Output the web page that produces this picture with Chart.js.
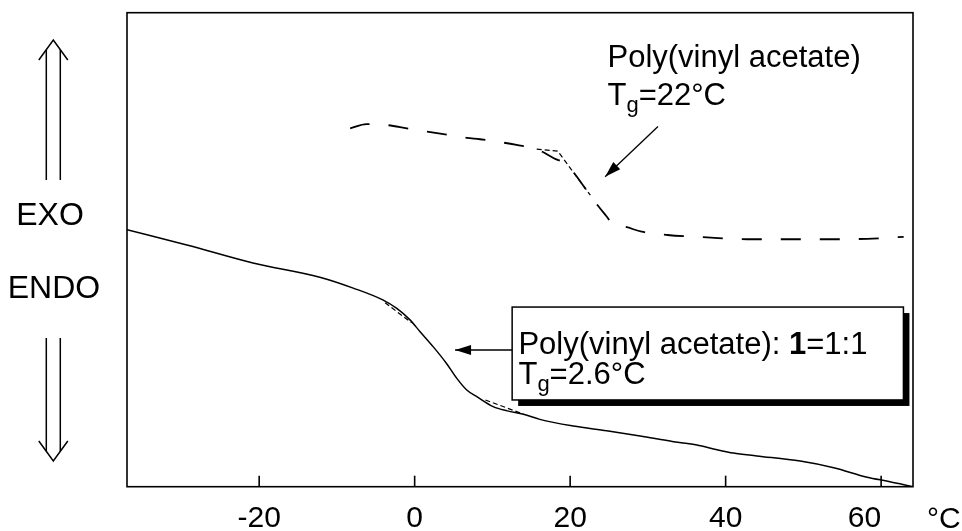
<!DOCTYPE html>
<html>
<head>
<meta charset="utf-8">
<script src="https://cdn.jsdelivr.net/npm/chart.js@4.4.1/dist/chart.umd.min.js"></script>
<style>
    html, body { margin: 0; padding: 0; background: #fff; }
    #wrap { width: 962px; height: 531px; }
</style>
</head>
<body>
<div id="wrap"><canvas id="dscChart" width="962" height="531"></canvas></div>
<script>
// Temperature ticks (°C)
const tickValues = [-20, 0, 20, 40, 60];

// Poly(vinyl acetate) : 1 = 1:1 blend (solid trace), heat flow in arbitrary units
const blendTemp = [-37, -29.3, -20.8, -12.2, -7.9, -4.1, -2.3, -0.6, 0.7, 2.4, 4.1, 5.4, 6.7, 8.0,
    10.1, 11.9, 14.0, 16.1, 20.4, 24.7, 29.0, 33.3, 36.3, 38.9, 41.0, 44.0, 49.6, 53.9, 58.2, 61.0, 64.1];
const blendFlow = [54.2, 51.0, 47.2, 44.2, 41.9, 39.4, 37.6, 35.2, 32.7, 29.5, 26.0, 22.9, 20.4, 19.0,
    16.9, 16.0, 15.3, 14.2, 12.8, 11.8, 10.7, 9.5, 8.8, 7.8, 7.1, 6.5, 5.4, 4.0, 2.0, 1.1, 0];

// Poly(vinyl acetate) alone (dashed trace)
const pvacTemp = [-8.3, -6.2, -3.6, -1.0, 1.6, 3.7, 6.7, 8.4, 11.0, 13.1, 15.7, 17.9, 19.6, 21.3,
    23.0, 24.7, 25.6, 26.8, 29.2, 32.5, 37.6, 42.8, 47.9, 53.5, 58.2, 62.9];
const pvacFlow = [75.6, 76.5, 76.3, 75.6, 74.9, 74.4, 73.6, 73.3, 72.7, 72.1, 71.2, 69.3, 67.9, 64.4,
    60.5, 57.0, 55.2, 54.9, 53.8, 53.1, 52.6, 52.2, 52.2, 52.2, 52.3, 52.7];

// Tangent construction lines (Tg onset / end)
const tangentTemp = [-3.8, -0.4, null, 9.1, 14.0, null, 15.7, 18.4, 22.6];
const tangentFlow = [38.8, 34.6, null, 18.3, 15.3, null, 71.2, 70.8, 61.5];

const FONT = "'Liberation Sans', Arial, Helvetica, sans-serif";

function toPoints(xs, ys) {
    return xs.map((x, i) => ({ x: x, y: ys[i] }));
}

function drawRich(ctx, x, y, parts, baseSize) {
    let cx = x;
    parts.forEach(p => {
        const size = p.size || baseSize;
        ctx.font = (p.bold ? "bold " : "") + size + "px " + FONT;
        ctx.fillText(p.t, cx, y + (p.dy || 0));
        cx += ctx.measureText(p.t).width;
    });
}

function arrowHead(ctx, x1, y1, x2, y2, len, half) {
    const a = Math.atan2(y2 - y1, x2 - x1);
    ctx.beginPath();
    ctx.moveTo(x2, y2);
    ctx.lineTo(x2 - len * Math.cos(a) + half * Math.sin(a), y2 - len * Math.sin(a) - half * Math.cos(a));
    ctx.lineTo(x2 - len * Math.cos(a) - half * Math.sin(a), y2 - len * Math.sin(a) + half * Math.cos(a));
    ctx.closePath();
    ctx.fill();
}

function arrow(ctx, x1, y1, x2, y2) {
    ctx.beginPath();
    ctx.moveTo(x1, y1);
    ctx.lineTo(x2, y2);
    ctx.stroke();
    arrowHead(ctx, x1, y1, x2, y2, 16, 5);
}

function openDoubleArrow(ctx, cx, yStart, yTip, dir) {
    // dir = -1 points up, +1 points down
    const headH = 20, headW = 14.5, gap = 7;
    const yBase = yTip - dir * headH;
    ctx.beginPath();
    ctx.moveTo(cx - headW, yBase);
    ctx.lineTo(cx, yTip);
    ctx.lineTo(cx + headW, yBase);
    ctx.stroke();
    const yJoin = yTip - dir * headH * (gap / headW);
    ctx.beginPath();
    ctx.moveTo(cx - gap, yStart);
    ctx.lineTo(cx - gap, yJoin);
    ctx.moveTo(cx + gap, yStart);
    ctx.lineTo(cx + gap, yJoin);
    ctx.stroke();
}

const decorPlugin = {
    id: "decor",
    afterDatasetsDraw(chart) {
        const ctx = chart.ctx;
        const a = chart.chartArea;
        const xs = chart.scales.x;
        const ys = chart.scales.y;
        const px = v => xs.getPixelForValue(v);
        const py = v => ys.getPixelForValue(v);

        ctx.save();
        ctx.strokeStyle = "#000";
        ctx.fillStyle = "#000";
        ctx.lineWidth = 1.6;

        // frame
        ctx.strokeRect(a.left, a.top, a.right - a.left, a.bottom - a.top);

        // inward ticks
        tickValues.forEach(t => {
            ctx.beginPath();
            ctx.moveTo(px(t), a.bottom);
            ctx.lineTo(px(t), a.bottom - 11);
            ctx.stroke();
        });

        // unit
        ctx.font = "30px " + FONT;
        ctx.textBaseline = "alphabetic";
        ctx.textAlign = "left";
        ctx.fillText("°C", a.right + 14, 528);

        // EXO / ENDO with double arrows
        ctx.textAlign = "center";
        ctx.font = "32px " + FONT;
        ctx.fillText("EXO", 50, 225);
        ctx.fillText("ENDO", 54, 298);
        ctx.lineWidth = 1.5;
        openDoubleArrow(ctx, 53.3, 180, 40, -1);
        openDoubleArrow(ctx, 53.3, 338, 461, 1);

        // top annotation
        ctx.textAlign = "left";
        ctx.font = "31px " + FONT;
        ctx.fillText("Poly(vinyl acetate)", px(24.8), py(88.6));
        drawRich(ctx, px(24.8), py(80.5), [{ t: "T" }, { t: "g", size: 22, dy: 7 }, { t: "=22°C" }], 31);
        ctx.lineWidth = 1.3;
        arrow(ctx, px(31.3), py(76.0), px(24.5), py(65.4));

        // boxed annotation with drop shadow
        const bx = px(12.54), by = py(37.9), bw = px(62.87) - bx, bh = py(18.3) - by;
        ctx.fillRect(bx + 6, by + 6, bw, bh);
        ctx.fillStyle = "#fff";
        ctx.fillRect(bx, by, bw, bh);
        ctx.lineWidth = 1.5;
        ctx.strokeRect(bx, by, bw, bh);
        ctx.fillStyle = "#000";
        drawRich(ctx, px(13.35), py(28.0),
            [{ t: "Poly(vinyl acetate): " }, { t: "1", bold: true }, { t: "=1:1" }], 31);
        drawRich(ctx, px(13.35), py(21.6), [{ t: "T" }, { t: "g", size: 22, dy: 7 }, { t: "=2.6°C" }], 31);
        ctx.lineWidth = 1.3;
        arrow(ctx, bx, py(28.84), px(5.2), py(28.84));

        ctx.restore();
    }
};

new Chart(document.getElementById("dscChart"), {
    type: "scatter",
    data: {
        datasets: [
            {
                label: "Poly(vinyl acetate): 1 = 1:1",
                data: toPoints(blendTemp, blendFlow),
                showLine: true,
                borderColor: "#000",
                borderWidth: 1.5,
                pointRadius: 0,
                cubicInterpolationMode: "monotone"
            },
            {
                label: "Poly(vinyl acetate)",
                data: toPoints(pvacTemp, pvacFlow),
                showLine: true,
                borderColor: "#000",
                borderWidth: 1.8,
                borderDash: [20, 19],
                pointRadius: 0,
                cubicInterpolationMode: "monotone"
            },
            {
                label: "tangents",
                data: toPoints(tangentTemp, tangentFlow),
                showLine: true,
                spanGaps: false,
                borderColor: "#000",
                borderWidth: 1.2,
                borderDash: [5, 3],
                pointRadius: 0
            }
        ]
    },
    options: {
        responsive: false,
        animation: false,
        layout: { padding: { left: 127, right: 49, top: 12.7, bottom: 0 } },
        plugins: {
            legend: { display: false },
            tooltip: { enabled: false }
        },
        scales: {
            x: {
                type: "linear",
                min: -37,
                max: 64.1,
                afterBuildTicks: s => { s.ticks = tickValues.map(v => ({ value: v })); },
                afterFit: s => { s.height = 44.3; },
                grid: { display: false, drawTicks: false },
                border: { display: false },
                ticks: {
                    padding: 14,
                    color: "#000",
                    font: { family: FONT, size: 30 },
                    maxRotation: 0,
                    callback: v => (v === 60 ? "60    " : String(v))
                }
            },
            y: {
                display: false,
                min: 0,
                max: 100
            }
        }
    },
    plugins: [decorPlugin]
});
</script>
</body>
</html>
